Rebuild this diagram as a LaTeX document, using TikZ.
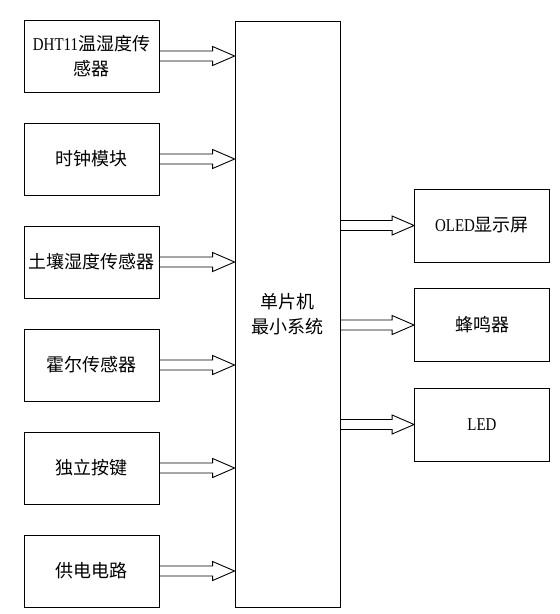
\documentclass[tikz,border=0pt]{standalone}
\usepackage{fontspec}
\setmainfont[FakeStretch=0.83]{Liberation Serif}
\newfontfamily\cjk{Noto Sans CJK SC}
\newcommand{\zh}[1]{{\cjk #1}}
\usetikzlibrary{positioning,calc}

\begin{document}
\begin{tikzpicture}[x=1pt, y=1pt, node distance={30.2pt},
    block/.style = {draw, line width=0.8pt, minimum width=135pt, minimum height=72pt, inner sep=2pt, align=center, font=\fontsize{18}{25}\selectfont},
    fat/.style = {draw, line width=0.9pt, to path={
      ($(\tikztostart)+(0,5)$) -- ($(\tikztotarget)+(-22,5)$) -- ($(\tikztotarget)+(-22,9.5)$) -- (\tikztotarget)
      -- ($(\tikztotarget)+(-22,-9.5)$) -- ($(\tikztotarget)+(-22,-5)$) -- ($(\tikztostart)+(0,-5)$)}}]
    \useasboundingbox (0,0) rectangle (560,-614);

    % left column
    \node[block] (dht) at (91.5,-56) {DHT11\zh{温湿度传}\\\zh{感器}};
    \node[block] (clk) [below=of dht] {\zh{时钟模块}};
    \node[block] (soil) [below=of clk] {\zh{土壤湿度传感器}};
    \node[block] (hall) [below=of soil] {\zh{霍尔传感器}};
    \node[block] (key) [below=of hall] {\zh{独立按键}};
    \node[block] (pwr) [below=of key] {\zh{供电电路}};

    % centre
    \node[block, minimum width=105pt, minimum height=586pt] (mcu) at (287.5,-314) {\zh{单片机}\\\zh{最小系统}};

    % right column
    \node[block, minimum height=73pt] (oled) at (482,-225.5) {OLED\zh{显示屏}};
    \node[block, minimum height=73pt] (buz) [below=25.7pt of oled] {\zh{蜂鸣器}};
    \node[block, minimum height=73pt] (led) [below=25.7pt of buz] {LED};

    \draw[fat] (dht.east) to (dht.east -| mcu.west);
    \draw[fat] (clk.east) to (clk.east -| mcu.west);
    \draw[fat] (soil.east) to (soil.east -| mcu.west);
    \draw[fat] (hall.east) to (hall.east -| mcu.west);
    \draw[fat] (key.east) to (key.east -| mcu.west);
    \draw[fat] (pwr.east) to (pwr.east -| mcu.west);

    \draw[fat] (oled.west -| mcu.east) to (oled.west);
    \draw[fat] (buz.west -| mcu.east) to (buz.west);
    \draw[fat] (led.west -| mcu.east) to (led.west);
  \end{tikzpicture}
\end{document}
